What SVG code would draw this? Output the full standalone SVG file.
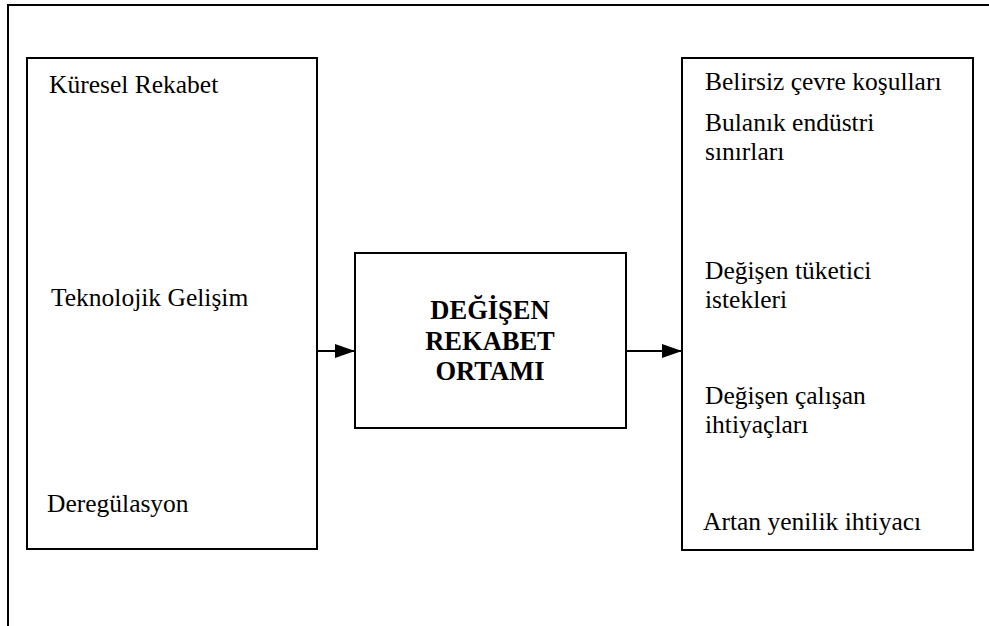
<svg xmlns="http://www.w3.org/2000/svg" width="989" height="626" viewBox="0 0 989 626">
  <style>
    .box { fill: #ffffff; stroke: #000000; stroke-width: 2; }
    .frame { fill: none; stroke: #000000; stroke-width: 2; }
    .lbl { font-family: "Liberation Serif", "Times New Roman", serif; font-size: 25.5px; fill: #000000; }
    .title { font-family: "Liberation Serif", "Times New Roman", serif; font-size: 26.5px; font-weight: bold; fill: #000000; text-anchor: middle; }
    .conn { fill: none; stroke: #000000; stroke-width: 2; }
  </style>
  <defs>
    <marker id="arrow" markerUnits="userSpaceOnUse" markerWidth="20" markerHeight="14" refX="20" refY="7" orient="auto">
      <path d="M0,0 L20,7 L0,14 z" fill="#000000"/>
    </marker>
  </defs>

  <rect width="989" height="626" fill="#ffffff"/>

  <!-- outer frame: top and left edges -->
  <path class="frame" d="M989,5 L8,5 L8,626"/>

  <!-- drivers -->
  <g id="drivers">
    <rect class="box" x="27" y="58" width="290" height="491"/>
    <text class="lbl" x="49" y="93">Küresel Rekabet</text>
    <text class="lbl" x="51" y="306">Teknolojik Gelişim</text>
    <text class="lbl" x="47" y="512">Deregülasyon</text>
  </g>

  <!-- central node -->
  <g id="environment">
    <rect class="box" x="355" y="253" width="271" height="175"/>
    <text class="title" x="490" y="319">DEĞİŞEN</text>
    <text class="title" x="490" y="350">REKABET</text>
    <text class="title" x="490" y="380">ORTAMI</text>
  </g>

  <!-- outcomes -->
  <g id="outcomes">
    <rect class="box" x="682" y="58" width="291" height="492"/>
    <text class="lbl" x="705" y="90">Belirsiz çevre koşulları</text>
    <text class="lbl" x="705" y="131">Bulanık endüstri</text>
    <text class="lbl" x="705" y="159.5">sınırları</text>
    <text class="lbl" x="705" y="279">Değişen tüketici</text>
    <text class="lbl" x="705" y="307.5">istekleri</text>
    <text class="lbl" x="705" y="404">Değişen çalışan</text>
    <text class="lbl" x="705" y="432.5">ihtiyaçları</text>
    <text class="lbl" x="703" y="530">Artan yenilik ihtiyacı</text>
  </g>

  <!-- connectors -->
  <g id="connectors">
    <line class="conn" x1="317" y1="351" x2="355" y2="351" marker-end="url(#arrow)"/>
    <line class="conn" x1="626" y1="351" x2="682" y2="351" marker-end="url(#arrow)"/>
  </g>
</svg>
